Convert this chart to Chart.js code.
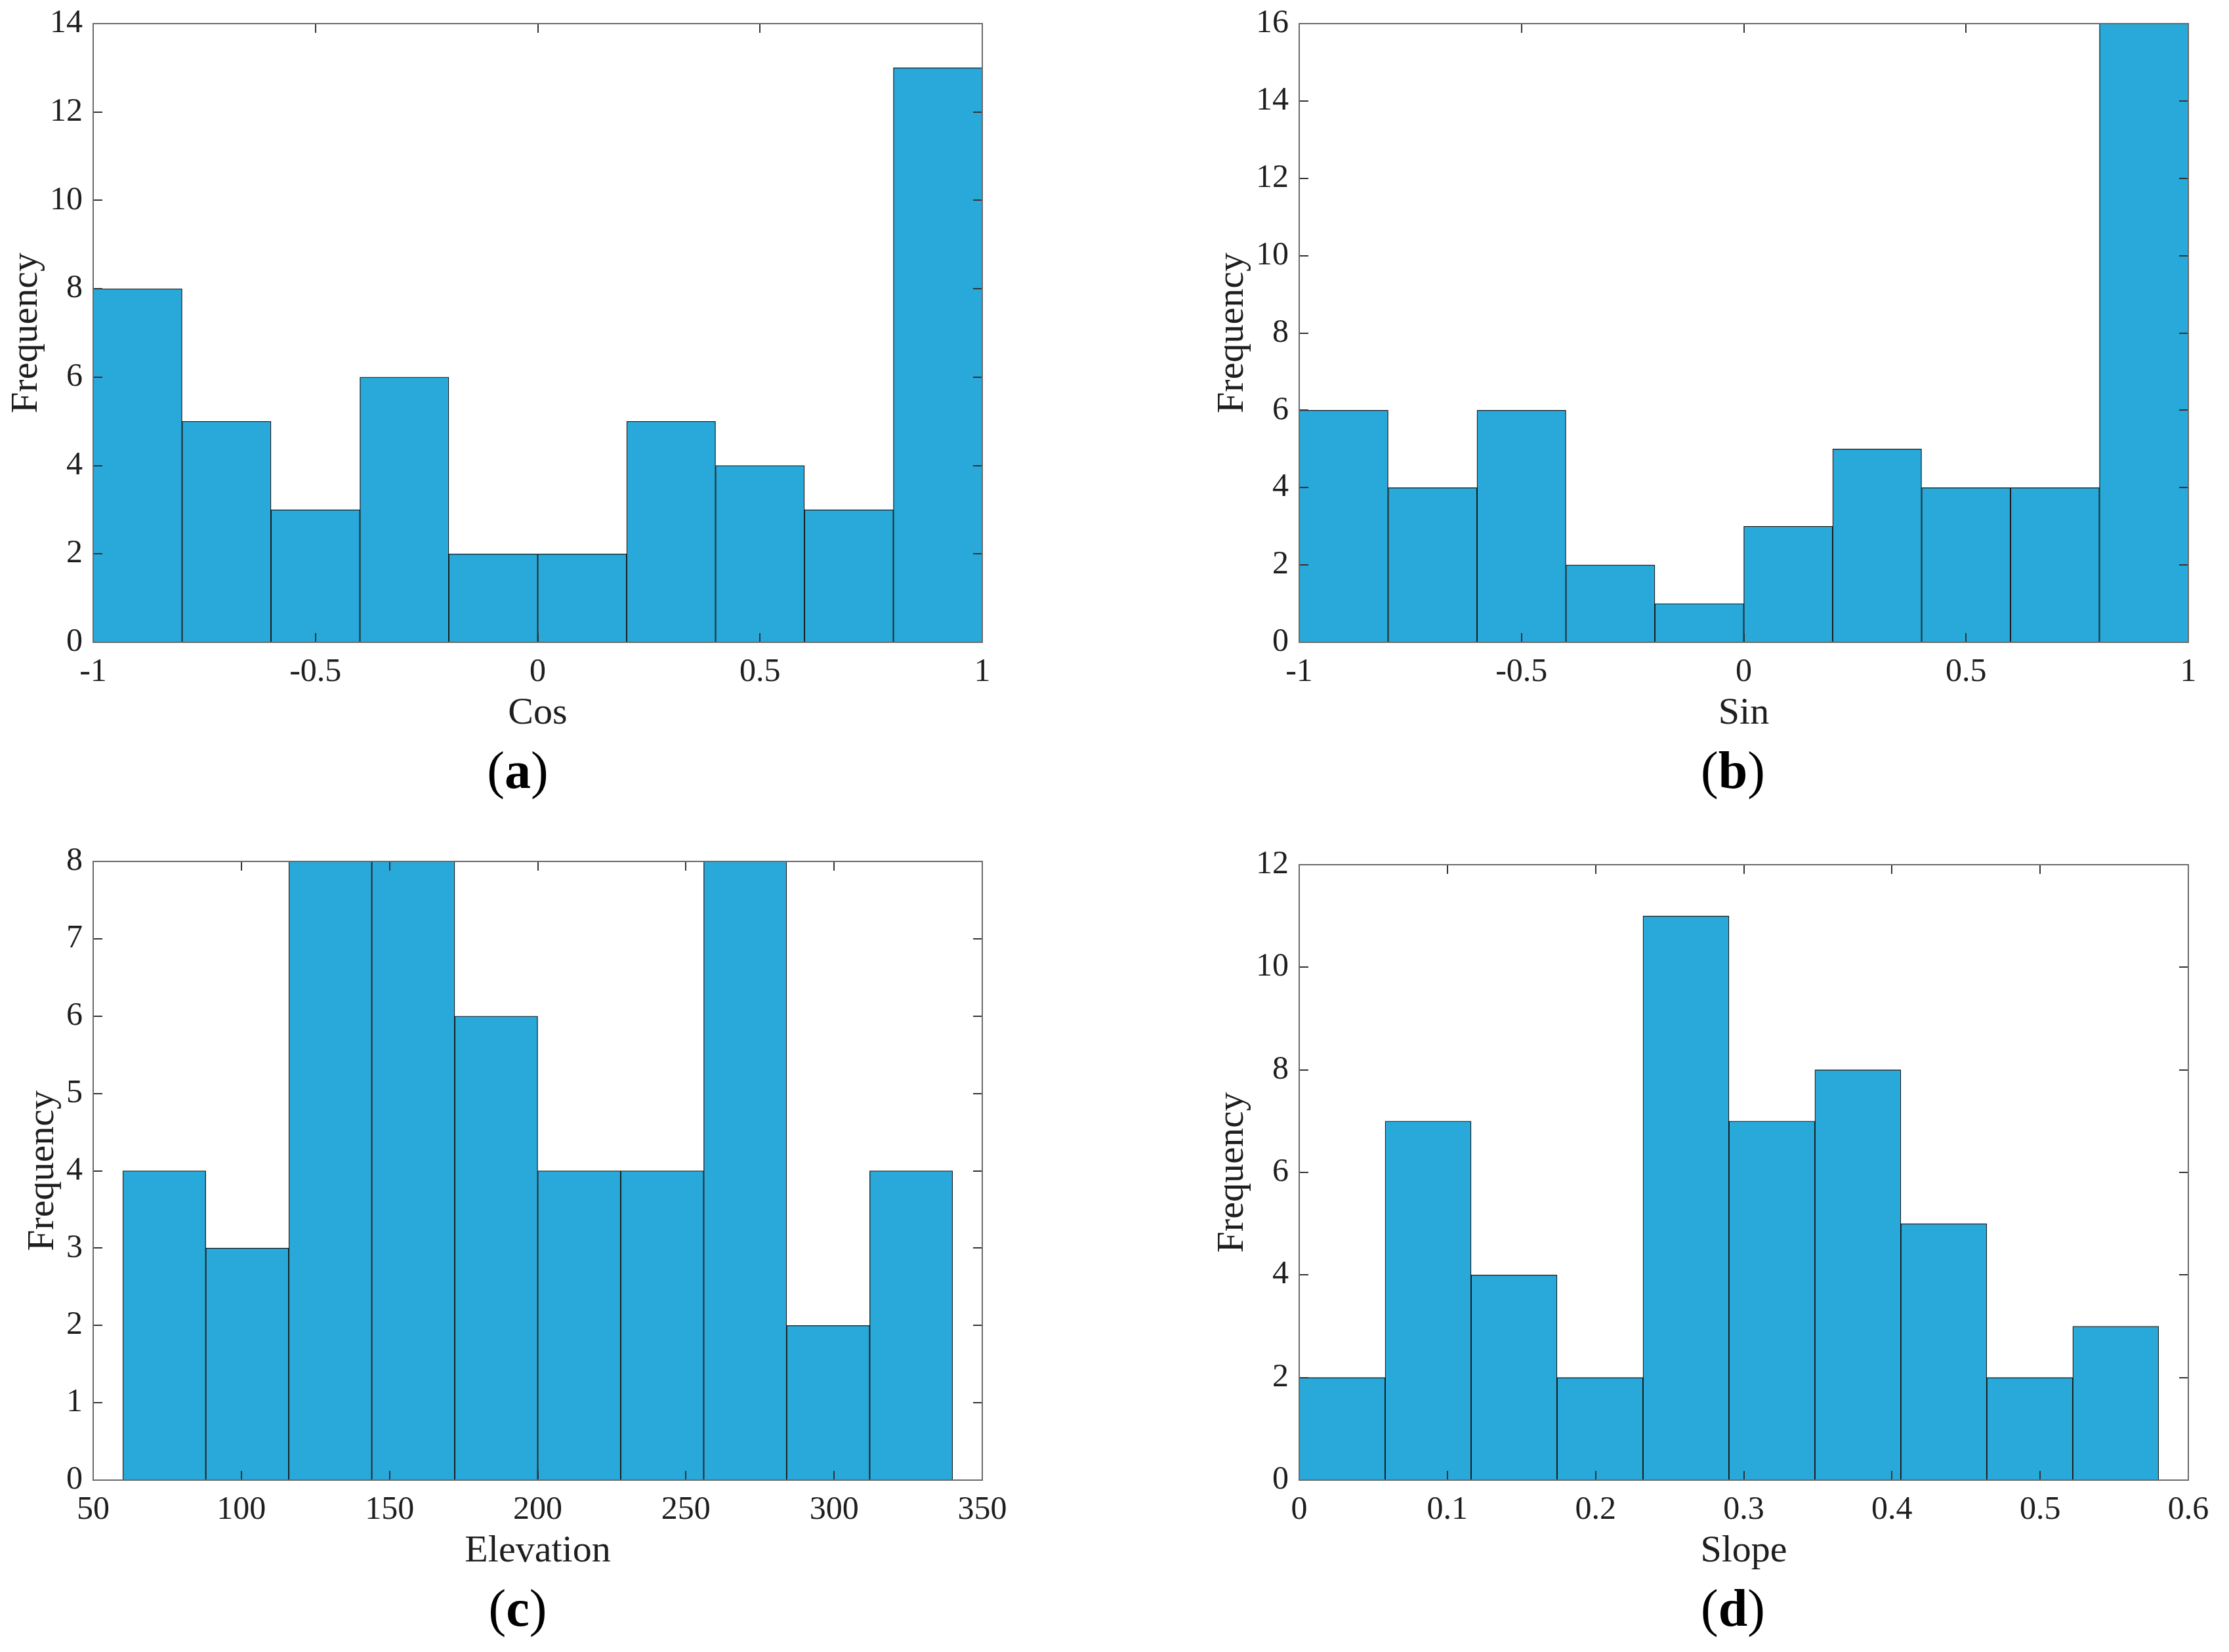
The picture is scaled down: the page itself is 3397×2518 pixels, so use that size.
<!DOCTYPE html>
<html>
<head>
<meta charset="utf-8">
<script src="https://cdn.jsdelivr.net/npm/chart.js@4.4.0/dist/chart.umd.min.js"></script>
<style>
    html, body { margin: 0; padding: 0; background: #fff; }
    body { width: 3397px; height: 2518px; position: relative; overflow: hidden; }
    canvas { position: absolute; }
    .tag {
        position: absolute;
        font-family: "Liberation Serif", serif;
        font-size: 80px;
        line-height: 1;
        color: #000;
        white-space: nowrap;
        transform: translate(-50%, -50%);
    }
    .tag b { font-weight: bold; }
</style>
</head>
<body>
<canvas id="chartA"></canvas>
<canvas id="chartB"></canvas>
<canvas id="chartC"></canvas>
<canvas id="chartD"></canvas>
<div class="tag" style="left:789px; top:1174px">(<b>a</b>)</div>
<div class="tag" style="left:2641px; top:1174px">(<b>b</b>)</div>
<div class="tag" style="left:789px; top:2451px">(<b>c</b>)</div>
<div class="tag" style="left:2641px; top:2451px">(<b>d</b>)</div>
<script>
// 直方图数据: 分箱边界 + 频数
const cosEdges = [-1, -0.8, -0.6, -0.4, -0.2, 0, 0.2, 0.4, 0.6, 0.8, 1];
const cosCounts = [8, 5, 3, 6, 2, 2, 5, 4, 3, 13];
const sinEdges = [-1, -0.8, -0.6, -0.4, -0.2, 0, 0.2, 0.4, 0.6, 0.8, 1];
const sinCounts = [6, 4, 6, 2, 1, 3, 5, 4, 4, 16];
const elevEdges = [60, 88, 116, 144, 172, 200, 228, 256, 284, 312, 340];
const elevCounts = [4, 3, 8, 8, 6, 4, 4, 8, 2, 4];
const slopeEdges = [0, 0.058, 0.116, 0.174, 0.232, 0.29, 0.348, 0.406, 0.464, 0.522, 0.58];
const slopeCounts = [2, 7, 4, 2, 11, 7, 8, 5, 2, 3];

// 刻度
const cosTicks = [-1, -0.5, 0, 0.5, 1];
const sinTicks = [-1, -0.5, 0, 0.5, 1];
const elevTicks = [50, 100, 150, 200, 250, 300, 350];
const slopeTicks = [0, 0.1, 0.2, 0.3, 0.4, 0.5, 0.6];
const freqTicksA = [0, 2, 4, 6, 8, 10, 12, 14];
const freqTicksB = [0, 2, 4, 6, 8, 10, 12, 14, 16];
const freqTicksC = [0, 1, 2, 3, 4, 5, 6, 7, 8];
const freqTicksD = [0, 2, 4, 6, 8, 10, 12];

const BAR_FILL = '#29a9d9';
const BAR_EDGE = '#1a1a1a';
const TEXT_COLOR = '#1e1e1e';
const CANVAS_W = 1559;
const BOX_LEFT = 142;
const BOX_RIGHT = 1497;
const X_AXIS_H = 150;
const TICK_LEN = 14;
const FONT = '"Liberation Serif", "Times New Roman", serif';

// MATLAB 风格的外框和向内刻度
const boxPlugin = {
    id: 'matlabBox',
    afterDatasetsDraw(chart) {
        const { ctx, chartArea: a, scales: { x, y } } = chart;
        ctx.save();
        ctx.strokeStyle = '#333';
        ctx.lineWidth = 2;
        ctx.beginPath();
        x.ticks.forEach(t => {
            const px = Math.round(x.getPixelForValue(t.value));
            ctx.moveTo(px, a.bottom); ctx.lineTo(px, a.bottom - TICK_LEN);
            ctx.moveTo(px, a.top); ctx.lineTo(px, a.top + TICK_LEN);
        });
        y.ticks.forEach(t => {
            const py = Math.round(y.getPixelForValue(t.value));
            ctx.moveTo(a.left, py); ctx.lineTo(a.left + TICK_LEN, py);
            ctx.moveTo(a.right, py); ctx.lineTo(a.right - TICK_LEN, py);
        });
        ctx.stroke();
        ctx.strokeStyle = '#6a6a6a';
        ctx.lineWidth = 2;
        ctx.strokeRect(a.left, a.top, a.right - a.left, a.bottom - a.top);
        ctx.restore();
    }
};

function makeHist(p) {
    const canvas = document.getElementById(p.id);
    canvas.width = CANVAS_W;
    canvas.height = p.boxBottom - p.top + X_AXIS_H;
    canvas.style.left = p.left + 'px';
    canvas.style.top = p.top + 'px';

    const points = p.counts.map((c, i) => ({ x: (p.edges[i] + p.edges[i + 1]) / 2, y: c }));

    return new Chart(canvas, {
        type: 'bar',
        data: {
            datasets: [{
                data: points,
                backgroundColor: BAR_FILL,
                borderColor: BAR_EDGE,
                borderWidth: 1.3,
                borderSkipped: false,
                barPercentage: 1,
                categoryPercentage: 1
            }]
        },
        options: {
            responsive: false,
            animation: false,
            devicePixelRatio: 1,
            layout: {
                padding: { top: p.boxTop - p.top, right: CANVAS_W - BOX_RIGHT, left: 0, bottom: 0 }
            },
            plugins: {
                legend: { display: false },
                tooltip: { enabled: false }
            },
            scales: {
                x: {
                    type: 'linear',
                    offset: false,
                    min: p.xTicks[0],
                    max: p.xTicks[p.xTicks.length - 1],
                    // 刻度线由插件画在框内, 这里只用 tickLength 留出标签间距
                    grid: { display: false, drawTicks: true, tickLength: 16 },
                    border: { display: false },
                    afterBuildTicks: s => { s.ticks = p.xTicks.map(v => ({ value: v })); },
                    afterFit: s => { s.height = X_AXIS_H; },
                    ticks: {
                        padding: 0,
                        maxRotation: 0,
                        autoSkip: false,
                        color: TEXT_COLOR,
                        font: { family: FONT, size: 50 },
                        callback: v => String(v)
                    },
                    title: {
                        display: true,
                        text: p.xTitle,
                        color: TEXT_COLOR,
                        font: { family: FONT, size: 58 },
                        padding: { top: 0, bottom: 6 }
                    }
                },
                y: {
                    min: 0,
                    max: p.yTicks[p.yTicks.length - 1],
                    grid: { display: false, drawTicks: true, tickLength: 16 },
                    border: { display: false },
                    afterBuildTicks: s => { s.ticks = p.yTicks.map(v => ({ value: v })); },
                    afterFit: s => { s.width = BOX_LEFT; },
                    ticks: {
                        padding: 0,
                        autoSkip: false,
                        color: TEXT_COLOR,
                        font: { family: FONT, size: 50 },
                        callback: v => String(v)
                    },
                    title: {
                        display: true,
                        text: 'Frequency',
                        color: TEXT_COLOR,
                        font: { family: FONT, size: 58 },
                        padding: { top: p.yTitlePad, bottom: 0 }
                    }
                }
            }
        },
        plugins: [boxPlugin]
    });
}

makeHist({ id: 'chartA', left: 0, top: 0, boxTop: 36, boxBottom: 979,
    edges: cosEdges, counts: cosCounts, xTicks: cosTicks, yTicks: freqTicksA, xTitle: 'Cos', yTitlePad: 6 });
makeHist({ id: 'chartB', left: 1838, top: 0, boxTop: 36, boxBottom: 979,
    edges: sinEdges, counts: sinCounts, xTicks: sinTicks, yTicks: freqTicksB, xTitle: 'Sin', yTitlePad: 6 });
makeHist({ id: 'chartC', left: 0, top: 1260, boxTop: 1313, boxBottom: 2256,
    edges: elevEdges, counts: elevCounts, xTicks: elevTicks, yTicks: freqTicksC, xTitle: 'Elevation', yTitlePad: 31 });
makeHist({ id: 'chartD', left: 1838, top: 1260, boxTop: 1318, boxBottom: 2256,
    edges: slopeEdges, counts: slopeCounts, xTicks: slopeTicks, yTicks: freqTicksD, xTitle: 'Slope', yTitlePad: 6 });
</script>
</body>
</html>
